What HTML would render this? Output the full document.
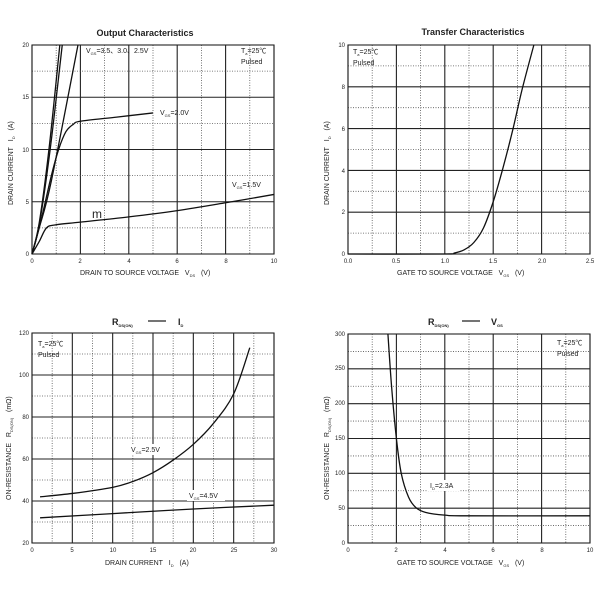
<!DOCTYPE html>
<html><head><meta charset="utf-8"><style>
html,body{margin:0;padding:0;background:#fff}
svg{display:block}
text{font-family:"Liberation Sans","Noto Sans CJK SC",sans-serif;fill:#222}
.t{font-size:6px}.a{font-size:7px}.h{font-size:9px;font-weight:bold}.s{font-size:4px}
</style></head><body>
<svg id="s" width="600" height="600" viewBox="0 0 600 600" xmlns="http://www.w3.org/2000/svg">
<rect width="600" height="600" fill="#fff"/>
<g id="g"></g>
<!-- Chart 1 -->
<text class="h" x="145" y="36" text-anchor="middle">Output Characteristics</text>
<g class="t" text-anchor="middle">
<text x="32" y="263">0</text><text x="80" y="263">2</text><text x="129" y="263">4</text><text x="177" y="263">6</text><text x="226" y="263">8</text><text x="274" y="263">10</text>
</g>
<g class="t" text-anchor="end">
<text x="29" y="256">0</text><text x="29" y="204">5</text><text x="29" y="152">10</text><text x="29" y="99">15</text><text x="29" y="47">20</text>
</g>
<text class="a" x="80" y="275">DRAIN TO SOURCE VOLTAGE&#160;&#160;&#160;V<tspan class="s" dy="2">DS</tspan><tspan dy="-2">&#160;&#160;&#160;(V)</tspan></text>
<text class="a" transform="translate(13,205) rotate(-90)">DRAIN CURRENT&#160;&#160;&#160;I<tspan class="s" dy="2">D</tspan><tspan dy="-2">&#160;&#160;&#160;(A)</tspan></text>
<text class="a" x="86" y="53">V<tspan class="s" dy="2">GS</tspan><tspan dy="-2">=3.5、3.0、2.5V</tspan></text>
<text class="a" x="160" y="115">V<tspan class="s" dy="2">GS</tspan><tspan dy="-2">=2.0V</tspan></text>
<text class="a" x="232" y="187">V<tspan class="s" dy="2">GS</tspan><tspan dy="-2">=1.5V</tspan></text>
<text class="a" x="241" y="53">T<tspan class="s" dy="2">a</tspan><tspan dy="-2">=25℃</tspan></text>
<text class="a" x="241" y="64">Pulsed</text>
<text x="92" y="218" style="font-size:12px">m</text>
<!-- Chart 2 -->
<text class="h" x="473" y="35" text-anchor="middle">Transfer Characteristics</text>
<g class="t" text-anchor="middle">
<text x="348" y="263">0.0</text><text x="396" y="263">0.5</text><text x="445" y="263">1.0</text><text x="493" y="263">1.5</text><text x="542" y="263">2.0</text><text x="590" y="263">2.5</text>
</g>
<g class="t" text-anchor="end">
<text x="345" y="256">0</text><text x="345" y="214">2</text><text x="345" y="173">4</text><text x="345" y="131">6</text><text x="345" y="89">8</text><text x="345" y="47">10</text>
</g>
<text class="a" x="397" y="275">GATE TO SOURCE VOLTAGE&#160;&#160;&#160;V<tspan class="s" dy="2">GS</tspan><tspan dy="-2">&#160;&#160;&#160;(V)</tspan></text>
<text class="a" transform="translate(329,205) rotate(-90)">DRAIN CURRENT&#160;&#160;&#160;I<tspan class="s" dy="2">D</tspan><tspan dy="-2">&#160;&#160;&#160;(A)</tspan></text>
<text class="a" x="353" y="54">T<tspan class="s" dy="2">a</tspan><tspan dy="-2">=25℃</tspan></text>
<text class="a" x="353" y="65">Pulsed</text>
<!-- Chart 3 -->
<text x="112" y="325" style="font-size:9px;font-weight:bold">R<tspan class="s" dy="2">DS(ON)</tspan></text>
<line x1="148" y1="321" x2="166" y2="321" stroke="#222" stroke-width="1.3"/>
<text x="178" y="325" style="font-size:9px;font-weight:bold">I<tspan class="s" dy="2">D</tspan></text>
<g class="t" text-anchor="middle">
<text x="32" y="552">0</text><text x="72" y="552">5</text><text x="113" y="552">10</text><text x="153" y="552">15</text><text x="193" y="552">20</text><text x="234" y="552">25</text><text x="274" y="552">30</text>
</g>
<g class="t" text-anchor="end">
<text x="29" y="545">20</text><text x="29" y="503">40</text><text x="29" y="461">60</text><text x="29" y="419">80</text><text x="29" y="377">100</text><text x="29" y="335">120</text>
</g>
<text class="a" x="105" y="565">DRAIN CURRENT&#160;&#160;&#160;I<tspan class="s" dy="2">D</tspan><tspan dy="-2">&#160;&#160;&#160;(A)</tspan></text>
<text class="a" transform="translate(11,500) rotate(-90)">ON-RESISTANCE&#160;&#160;&#160;R<tspan class="s" dy="2">DS(ON)</tspan><tspan dy="-2">&#160;&#160;&#160;(mΩ)</tspan></text>
<text class="a" x="38" y="346">T<tspan class="s" dy="2">a</tspan><tspan dy="-2">=25℃</tspan></text>
<text class="a" x="38" y="357">Pulsed</text>
<!-- Chart 4 -->
<text x="428" y="325" style="font-size:9px;font-weight:bold">R<tspan class="s" dy="2">DS(ON)</tspan></text>
<line x1="462" y1="321" x2="480" y2="321" stroke="#222" stroke-width="1.3"/>
<text x="491" y="325" style="font-size:9px;font-weight:bold">V<tspan class="s" dy="2">GS</tspan></text>
<g class="t" text-anchor="middle">
<text x="348" y="552">0</text><text x="396" y="552">2</text><text x="445" y="552">4</text><text x="493" y="552">6</text><text x="542" y="552">8</text><text x="590" y="552">10</text>
</g>
<g class="t" text-anchor="end">
<text x="345" y="545">0</text><text x="345" y="510">50</text><text x="345" y="475">100</text><text x="345" y="440">150</text><text x="345" y="405">200</text><text x="345" y="370">250</text><text x="345" y="336">300</text>
</g>
<text class="a" x="397" y="565">GATE TO SOURCE VOLTAGE&#160;&#160;&#160;V<tspan class="s" dy="2">GS</tspan><tspan dy="-2">&#160;&#160;&#160;(V)</tspan></text>
<text class="a" transform="translate(329,500) rotate(-90)">ON-RESISTANCE&#160;&#160;&#160;R<tspan class="s" dy="2">DS(ON)</tspan><tspan dy="-2">&#160;&#160;&#160;(mΩ)</tspan></text>
<text class="a" x="557" y="345">T<tspan class="s" dy="2">a</tspan><tspan dy="-2">=25℃</tspan></text>
<text class="a" x="557" y="356">Pulsed</text>
<g id="lab"></g>
</svg>
<script>
var NS="http://www.w3.org/2000/svg",G=document.getElementById('g'),L=document.getElementById('lab');
function el(n,a,p){var e=document.createElementNS(NS,n);for(var k in a)e.setAttribute(k,a[k]);(p||G).appendChild(e);return e;}
function chart(c){
 var X=function(v){return c.x0+(v-c.xa)/(c.xb-c.xa)*(c.x1-c.x0)},Y=function(v){return c.y0-(v-c.ya)/(c.yb-c.ya)*(c.y0-c.y1)};
 var i,v;
 for(i=0;i<=c.nx*2;i++){v=c.xa+(c.xb-c.xa)*i/(c.nx*2);var x=X(v);
  el('line',{x1:x,x2:x,y1:c.y1,y2:c.y0,stroke:i%2?'#555':'#222','stroke-width':i%2?0.8:1.1,'stroke-dasharray':i%2?'1,1.5':''});}
 for(i=0;i<=c.ny*2;i++){v=c.ya+(c.yb-c.ya)*i/(c.ny*2);var y=Y(v);
  el('line',{x1:c.x0,x2:c.x1,y1:y,y2:y,stroke:i%2?'#555':'#222','stroke-width':i%2?0.8:1.1,'stroke-dasharray':i%2?'1,1.5':''});}
 el('rect',{x:c.x0,y:c.y1,width:c.x1-c.x0,height:c.y0-c.y1,fill:'none',stroke:'#222','stroke-width':1.1});
 c.curves.forEach(function(p){
  var P=p.map(function(q){return[X(q[0]),Y(q[1])]});
  var d='M'+P[0][0]+','+P[0][1];
  for(var k=0;k<P.length-1;k++){var p0=P[k-1]||P[k],p1=P[k],p2=P[k+1],p3=P[k+2]||p2;
   d+=' C'+(p1[0]+(p2[0]-p0[0])/6)+','+(p1[1]+(p2[1]-p0[1])/6)+' '+(p2[0]-(p3[0]-p1[0])/6)+','+(p2[1]-(p3[1]-p1[1])/6)+' '+p2[0]+','+p2[1];}
  el('path',{d:d,fill:'none',stroke:'#111','stroke-width':1.3},L);
 });
}
chart({x0:32,x1:274,y0:254,y1:45,xa:0,xb:10,ya:0,yb:20,nx:5,ny:4,curves:[
 [[0,0],[0.3,3],[0.7,10],[1.15,20]],
 [[0,0],[0.3,2.8],[0.75,10],[1.25,20]],
 [[0,0],[0.3,2.5],[0.8,7],[1.9,20]],
 [[0,0],[0.4,3.5],[0.8,7.5],[1.1,10],[1.4,11.7],[1.7,12.4],[2,12.7],[3.5,13.1],[5,13.5]],
 [[0,0],[0.3,1.2],[0.6,2.5],[1,2.8],[2,3.05],[4,3.55],[6,4.15],[8,4.9],[10,5.7]]]});
chart({x0:348,x1:590,y0:254,y1:45,xa:0,xb:2.5,ya:0,yb:10,nx:5,ny:5,curves:[
 [[0,0],[1.0,0],[1.1,0.05],[1.2,0.2],[1.3,0.55],[1.4,1.25],[1.5,2.5],[1.6,4.1],[1.7,5.9],[1.8,7.9],[1.92,10]]]});
chart({x0:32,x1:274,y0:543,y1:333,xa:0,xb:30,ya:20,yb:120,nx:6,ny:5,curves:[
 [[1,42],[5,43.6],[10,46.5],[12.5,49.3],[15,53.5],[17.5,59.5],[20,67],[22.5,77],[25,91],[27,113]],
 [[1,32],[10,34],[20,36.2],[30,38]]]});
chart({x0:348,x1:590,y0:543,y1:334,xa:0,xb:10,ya:0,yb:300,nx:5,ny:6,curves:[
 [[1.65,300],[1.8,225],[2,150],[2.2,100],[2.5,66],[2.8,51],[3.2,44],[4,40],[5,39],[10,39]]]});
function lbl(x,y,w,t,s){el('rect',{x:x-2,y:y-8,width:w,height:11,fill:'#fff'},L);var e=el('text',{x:x,y:y,class:'a'},L);e.innerHTML=t;}
lbl(131,452,36,'V<tspan class="s" dy="2">GS</tspan><tspan dy="-2">=2.5V</tspan>');
lbl(189,498,38,'V<tspan class="s" dy="2">GS</tspan><tspan dy="-2">=4.5V</tspan>');
lbl(430,488,32,'I<tspan class="s" dy="2">D</tspan><tspan dy="-2">=2.3A</tspan>');
</script>
</body></html>
